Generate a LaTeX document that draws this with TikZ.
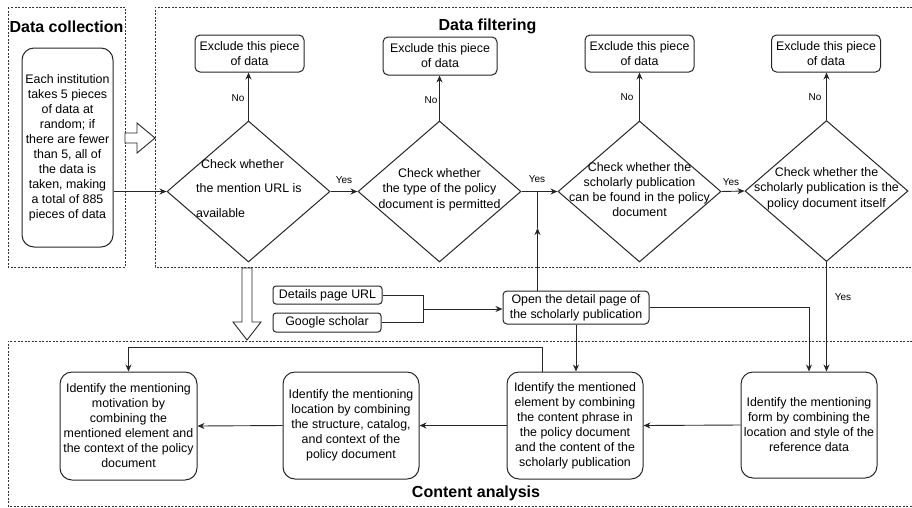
\documentclass[tikz,border=0pt]{standalone}
\usepackage{fontspec}
\setmainfont{Liberation Sans}
\usetikzlibrary{arrows.meta,shapes.geometric,calc}
\begin{document}
\begin{tikzpicture}[x=1pt,y=-1pt,
  every node/.style={font=\fontsize{12.4}{15}\selectfont, inner sep=0pt},
  ln/.style={draw=black!85, line width=0.9pt},
  arr/.style={ln, -{Stealth[length=7pt,width=6pt]}},
  area/.style={draw=black!80, line width=0.8pt, dash pattern=on 2pt off 1.5pt},
  bigbox/.style={draw=black!85, line width=1pt, rounded corners=12pt, align=center},
  exbox/.style={draw=black!85, line width=1pt, rounded corners=5pt, align=center, minimum width=109pt, minimum height=37pt},
  smallbox/.style={draw=black!85, line width=1pt, rounded corners=3pt, align=center},
  dia/.style={draw=black!85, line width=1pt, shape=diamond, minimum width=163pt, minimum height=141pt, inner sep=0pt, aspect=1.156},
  lab/.style={font=\fontsize{10}{12}\selectfont},
  title/.style={font=\fontsize{16}{19}\selectfont\bfseries, anchor=base},
  hollow/.style={draw=black!85, line width=0.9pt, fill=white}
]
\useasboundingbox (0,0) rectangle (912,507);

% areas
\draw[area] (8,7) rectangle (125,267);
\draw[area] (912,7) -- (155,7) -- (155,267) -- (912,267);
\draw[area] (912,341) -- (8,341) -- (8,506) -- (912,506);
\node[title] (tcol) at (66.5,32) {Data collection};
\node[title] (tfil) at (487.5,30) {Data filtering};
\node[title] (tcon) at (476,497) {Content analysis};

% data collection
\node[bigbox, minimum width=91pt, minimum height=199pt] (collect) at (67.5,147.5)
  {Each institution\\takes 5 pieces\\of data at\\random; if\\there are fewer\\than 5, all of\\the data is\\taken, making\\a total of 885\\pieces of data};

% hollow arrows
\draw[hollow] (125,133) -- (137,133) -- (137,123) -- (155,138) -- (137,153) -- (137,143) -- (125,143) -- cycle;
\draw[hollow] (242,268) -- (252,268) -- (252,322) -- (261,322) -- (247,340) -- (233,322) -- (242,322) -- cycle;

% diamonds
\node[dia] (d1) at (248.5,191.5) {};
\node[dia] (d2) at (439.5,191.5) {};
\node[dia] (d3) at (639.5,191.5) {};
\node[dia] (d4) at (826.5,191) {};
\node[anchor=west, align=left, font=\fontsize{12.4}{24.5}\selectfont] (d1t) at (196,188.5)
  {\hspace*{5pt}Check whether\\the mention URL is\\available};
\node[align=center, font=\fontsize{12.4}{15.5}\selectfont] (d2t) at (439.5,189.5)
  {Check whether\\the type of the policy\\document is permitted};
\node[align=center] (d3t) at (639.5,189.5)
  {Check whether the\\scholarly publication\\can be found in the policy\\document};
\node[align=center, font=\fontsize{12.4}{15.5}\selectfont] (d4t) at (826.5,188.5)
  {Check whether the\\scholarly publication is the\\policy document itself};

% exclude boxes
\node[exbox] (ex1) at (249.5,53.5) {Exclude this piece\\of data};
\node[exbox, minimum width=114pt, minimum height=38pt] (ex2) at (440,56) {Exclude this piece\\of data};
\node[exbox] (ex3) at (639.5,53.5) {Exclude this piece\\of data};
\node[exbox] (ex4) at (826,53.5) {Exclude this piece\\of data};

\draw[arr] (d1.north) -- (d1.north |- ex1.south);
\draw[arr] (d2.north) -- (d2.north |- ex2.south);
\draw[arr] (d3.north) -- (d3.north |- ex3.south);
\draw[arr] (d4.north) -- (d4.north |- ex4.south);
\node[lab] (n1) at (238,98) {No};
\node[lab] (n2) at (431,100) {No};
\node[lab] (n3) at (627,97) {No};
\node[lab] (n4) at (815,97) {No};

\draw[arr] (collect.east |- d1.west) -- (d1.west);
\draw[arr] (d1.east) -- (d2.west);
\draw[arr] (d2.east) -- (d3.west);
\draw[arr] (d3.east) -- (d4.west);
\node[lab] (y1) at (344,180) {Yes};
\node[lab] (y2) at (537,179) {Yes};
\node[lab] (y3) at (731,182) {Yes};

% sources
\node[smallbox, minimum width=109pt, minimum height=18pt] (url) at (327.5,295) {Details page URL};
\node[smallbox, minimum width=108pt, minimum height=19pt] (gs) at (327,322.5) {Google scholar};
\node[smallbox, rounded corners=4pt, minimum width=146pt, minimum height=33pt] (open) at (576,307.5)
  {Open the detail page of\\the scholarly publication};
\coordinate (merge) at (423,309);
\draw[ln] (url.east) -| (merge);
\draw[ln] (gs.east) -| (merge);
\draw[arr] (merge) -- (open.west |- merge);
\coordinate (tipup) at (537.5,228);
\coordinate (junc) at (537.5,191.5);
\draw[arr] ([xshift=-38.5pt]open.north) -- (tipup);
\draw[ln] (tipup) -- (junc);

% content analysis boxes
\node[bigbox, minimum width=137pt, minimum height=108pt] (motiv) at (128.5,426)
  {Identify the mentioning\\motivation by\\combining the\\mentioned element and\\the context of the policy\\document};
\node[bigbox, minimum width=136pt, minimum height=107pt] (loc) at (351,425.5)
  {Identify the mentioning\\location by combining\\the structure, catalog,\\and context of the\\policy document};
\node[bigbox, minimum width=136pt, minimum height=107pt] (elem) at (575,425.5)
  {Identify the mentioned\\element by combining\\the content phrase in\\the policy document\\and the content of the\\scholarly publication};
\node[bigbox, minimum width=136pt, minimum height=106pt] (form) at (809,425)
  {Identify the mentioning\\form by combining the\\location and style of the\\reference data};

\draw[arr] (open.south) -- (open.south |- elem.north);
\draw[arr] (open.east) -| (form.north);
\draw[arr] (d4.south) -- (d4.south |- form.north);
\node[lab] (y4) at (843,297) {Yes};

\draw[arr] (form.west) -- (elem.east);
\draw[arr] (elem.west) -- (loc.east);
\draw[arr] (loc.west) -- (motiv.east);
\draw[arr] ([xshift=-33pt]elem.north) |- ([yshift=24pt]motiv.north) -- (motiv.north);

\end{tikzpicture}
\end{document}
